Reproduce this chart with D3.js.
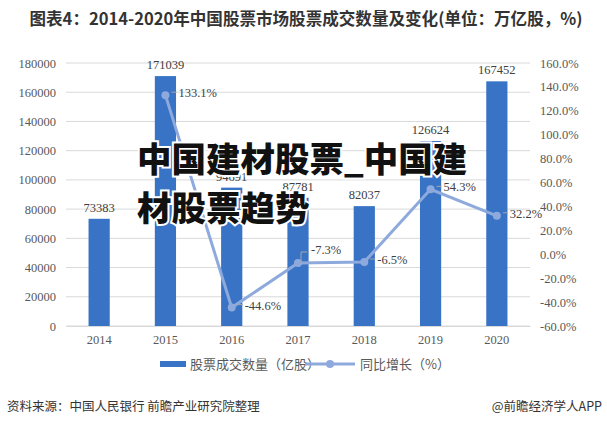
<!DOCTYPE html>
<html><head><meta charset="utf-8">
<script src="https://cdn.jsdelivr.net/npm/d3@7"></script>
<style>
html,body{margin:0;padding:0;background:#fff;}
svg{display:block;}
</style></head>
<body>
<svg id="c" width="607" height="426"></svg>
<script>
const years = ["2014","2015","2016","2017","2018","2019","2020"];
const volume = [73383, 171039, 94691, 87781, 82037, 126624, 167452];
const growth = [null, 133.1, -44.6, -7.3, -6.5, 54.3, 32.2];
const leftTicks = [0,20000,40000,60000,80000,100000,120000,140000,160000,180000];
const rightTicks = [-60,-40,-20,0,20,40,60,80,100,120,140,160];
const titleText = "图表4：2014-2020年中国股票市场股票成交数量及变化(单位：万亿股，%)";
const legendBar = "股票成交数量（亿股）";
const legendLine = "同比增长（%）";
const sourceText = "资料来源：中国人民银行 前瞻产业研究院整理";
const brandText = "@前瞻经济学人APP";
const overlay1 = "中国建材股票_中国建";
const overlay2 = "材股票趋势";

const svg = d3.select("#c");
const L = 66, R = 530, T = 63, B = 326;
const x = d3.scaleBand().domain(years).range([L, R]).paddingInner(0.68).paddingOuter(0.34);
const yL = d3.scaleLinear().domain([0,180000]).range([B,T]);
const yR = d3.scaleLinear().domain([-60,160]).range([B,T]);
const serif = "'Liberation Serif','DejaVu Serif',serif";
const sans = "'Noto Sans CJK SC','Noto Sans',sans-serif";

// title
svg.append("text").attr("x", 306).attr("y", 25).attr("text-anchor","middle")
  .attr("font-family", sans).attr("font-weight","bold").attr("font-size",16.5).attr("fill","#333")
  .attr("textLength", 553).attr("lengthAdjust","spacingAndGlyphs")
  .text(titleText);

// gridlines
svg.append("g").selectAll("line").data(leftTicks).join("line")
  .attr("x1", L).attr("x2", R).attr("y1", d=>yL(d)).attr("y2", d=>yL(d))
  .attr("stroke","#d9d9d9").attr("stroke-width",1);

// left axis
const ga = svg.append("g").attr("transform",`translate(${L},0)`)
  .call(d3.axisLeft(yL).tickValues(leftTicks).tickSize(0).tickPadding(10).tickFormat(d3.format("d")));
ga.select(".domain").remove();
ga.selectAll("text").attr("font-family", serif).attr("font-size",12.5).attr("fill","#595959");

// right axis
const gr = svg.append("g").attr("transform",`translate(${R},0)`)
  .call(d3.axisRight(yR).tickValues(rightTicks).tickSize(0).tickPadding(10).tickFormat(d=>d.toFixed(1)+"%"));
gr.select(".domain").remove();
gr.selectAll("text").attr("font-family", serif).attr("font-size",12.5).attr("fill","#595959");

// x axis
const gx = svg.append("g").attr("transform",`translate(0,${B})`)
  .call(d3.axisBottom(x).tickSize(0).tickPadding(9));
gx.select(".domain").attr("stroke","#d9d9d9");
gx.selectAll("text").attr("font-family", serif).attr("font-size",12.5).attr("fill","#595959");

// bars
svg.append("g").selectAll("rect").data(years).join("rect")
  .attr("x", d=>x(d)).attr("width", x.bandwidth())
  .attr("y", (d,i)=>yL(volume[i])).attr("height",(d,i)=>B-yL(volume[i]))
  .attr("fill","#3873c6");
svg.append("g").selectAll("text").data(years).join("text")
  .attr("x", d=>x(d)+x.bandwidth()/2).attr("y",(d,i)=>yL(volume[i])-7)
  .attr("text-anchor","middle").attr("font-family", serif).attr("font-size",12.5).attr("fill","#404040")
  .text((d,i)=>volume[i]);

// line
const pts = years.map((d,i)=>({d, v:growth[i]})).filter(p=>p.v!==null);
const cx = d=>x(d)+x.bandwidth()/2;
svg.append("path").datum(pts)
  .attr("d", d3.line().x(p=>cx(p.d)).y(p=>yR(p.v)))
  .attr("fill","none").attr("stroke","#8eaadc").attr("stroke-width",3);
svg.append("g").selectAll("circle").data(pts).join("circle")
  .attr("cx", p=>cx(p.d)).attr("cy", p=>yR(p.v)).attr("r",4).attr("fill","#8eaadc");
const lg = svg.append("g");
pts.forEach(p=>{
  const up = p.v === -7.3 ? -11 : 0;
  const px = cx(p.d), py = yR(p.v);
  lg.append("path").attr("d", up ? `M${px+3},${py} V${py+up} H${px+9}` : `M${px+6},${py-3} H${px+11}`)
    .attr("fill","none").attr("stroke","#a6a6a6").attr("stroke-width",1);
  lg.append("text").attr("x", px+13).attr("y", py+up-3+5)
    .attr("font-family", serif).attr("font-size",12.5).attr("fill","#404040")
    .text(p.v.toFixed(1)+"%");
});

// legend
svg.append("rect").attr("x",160).attr("y",361).attr("width",26).attr("height",6).attr("fill","#3873c6");
svg.append("text").attr("x",190).attr("y",369).attr("font-family",sans).attr("font-size",13).attr("fill","#595959").text(legendBar);
svg.append("line").attr("x1",305).attr("x2",355).attr("y1",364).attr("y2",364).attr("stroke","#8eaadc").attr("stroke-width",3);
svg.append("circle").attr("cx",330).attr("cy",364).attr("r",4).attr("fill","#8eaadc");
svg.append("text").attr("x",360).attr("y",369).attr("font-family",sans).attr("font-size",13).attr("fill","#595959").text(legendLine);

// footer
svg.append("text").attr("x",7).attr("y",411).attr("font-family",sans).attr("font-size",12.5).attr("fill","#333").text(sourceText);
svg.append("text").attr("x",602).attr("y",411).attr("text-anchor","end").attr("font-family",sans).attr("font-size",12.5).attr("fill","#333").text(brandText);

// overlay
[[overlay1,172],[overlay2,221]].forEach(([t,y])=>{
  svg.append("text").attr("x",137).attr("y",y).attr("font-family",sans).attr("font-weight",900)
    .attr("font-size",34.5).attr("fill","#111").attr("stroke","#fff").attr("stroke-width",4)
    .attr("paint-order","stroke").text(t);
});
</script>
</body></html>
